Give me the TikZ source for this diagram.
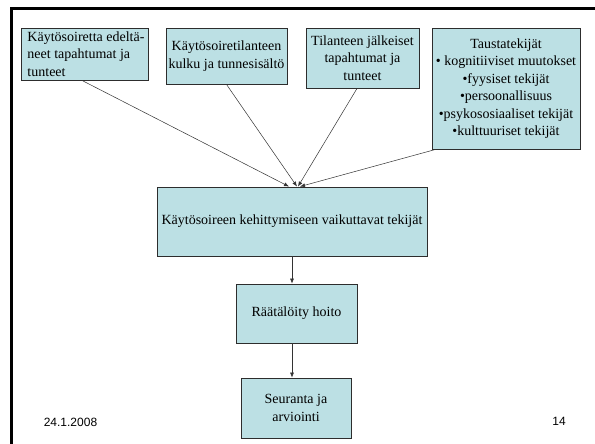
\documentclass[tikz,border=0pt]{standalone}
\usepackage{fontspec}
\setmainfont{Liberation Serif}
\newfontfamily\footfont{Liberation Sans}
\usetikzlibrary{arrows.meta}
\definecolor{boxfill}{RGB}{188,224,228}
\definecolor{boxline}{RGB}{45,45,45}
\tikzset{
  flowbox/.style={draw=boxline, fill=boxfill, line width=0.9pt, inner sep=0pt,
    align=center, font=\fontsize{14}{17.5}\selectfont},
  conn/.style={draw=black!80, line width=0.5pt, -{Latex[length=5pt,width=4pt]}},
  foot/.style={font=\footfont\fontsize{12}{14}\selectfont, inner sep=0pt}
}
\begin{document}
\begin{tikzpicture}[x=1pt,y=-1pt]
\useasboundingbox (0,0) rectangle (595,444);
\fill[white] (0,0) rectangle (595,444);
% slide frame
\draw[line width=3pt, black] (11,444) -- (11,9) -- (595,9);

\node[flowbox, align=left, minimum width=127pt, minimum height=52pt] (b1) at (84.5,54)
  {\hspace*{3pt}Käytösoiretta edeltä-\\\hspace*{3pt}neet tapahtumat ja\\\hspace*{3pt}tunteet};
\node[flowbox, minimum width=121pt, minimum height=56pt] (b2) at (226.5,56)
  {Käytösoiretilanteen\\kulku ja tunnesisältö};
\node[flowbox, minimum width=113pt, minimum height=60pt] (b3) at (362.5,58)
  {Tilanteen jälkeiset\\tapahtumat ja\\tunteet};
\node[flowbox, minimum width=148pt, minimum height=121pt] (b4) at (506,88.5)
  {Taustatekijät\\• kognitiiviset muutokset\\•fyysiset tekijät\\•persoonallisuus\\•psykososiaaliset tekijät\\•kulttuuriset tekijät};
\node[flowbox, minimum width=270pt, minimum height=69pt] (main) at (292,221.5)
  {Käytösoireen kehittymiseen vaikuttavat tekijät};
\node[flowbox, minimum width=121pt, minimum height=59pt] (hoito) at (296.5,313.5)
  {Räätälöity hoito};
\node[flowbox, minimum width=110pt, minimum height=60pt] (seur) at (296,408)
  {Seuranta ja\\arviointi};

\draw[conn] ([xshift=-2.5pt]b1.south) -- ([xshift=-3pt]main.north);
\draw[conn] (b2.south) -- ([xshift=5pt]main.north);
\draw[conn] ([xshift=-5.5pt]b3.south) -- ([xshift=6pt]main.north);
\draw[conn] ([xshift=4pt]b4.south west) -- ([xshift=8pt]main.north);
\draw[conn] (main.south) -- (main.south |- hoito.north);
\draw[conn] (main.south |- hoito.south) -- (main.south |- seur.north);

\node[foot] (date) at (70.5,422) {24.1.2008};
\node[foot] (page) at (559,421) {14};
\end{tikzpicture}
\end{document}
